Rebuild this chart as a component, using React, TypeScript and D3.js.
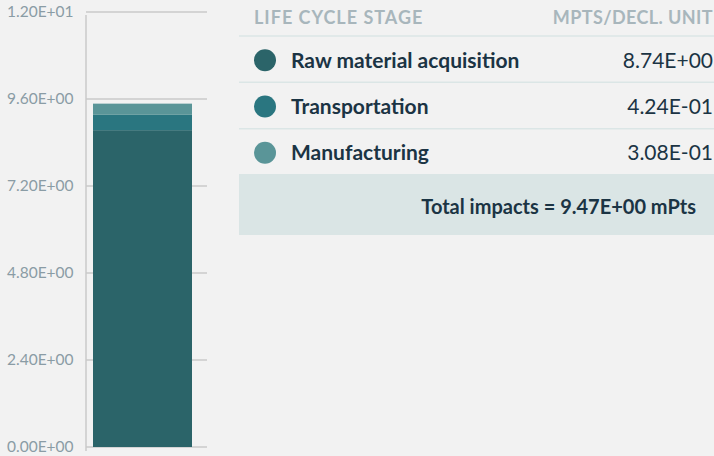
import React from "react";
import * as d3 from "d3";

const stages = ["Raw material acquisition", "Transportation", "Manufacturing"];
const values = [8.74, 0.424, 0.308];
const valueLabels = ["8.74E+00", "4.24E-01", "3.08E-01"];
const stageColors = ["#2b6469", "#2a7680", "#5a9598"];
const yTicks = [0, 2.4, 4.8, 7.2, 9.6, 12];
const totalLabel = "Total impacts = 9.47E+00 mPts";

const width = 714;
const height = 456;
const font = "Lato, 'Open Sans', sans-serif";

export default function App() {
  const y = d3.scaleLinear().domain([0, 12]).range([447, 12]);
  const fmt = (v: number) => v.toExponential(2).toUpperCase().replace(/E([+-])(\d)$/, "E$10$2");

  // stack the stages bottom-up
  const stacked = values.map((v, i) => {
    const start = d3.sum(values.slice(0, i));
    return { v, start, end: start + v, color: stageColors[i] };
  });

  const rowY = d3.scaleBand<number>().domain([0, 1, 2]).range([36, 175]);

  return (
    <svg
      width={width}
      height={height}
      style={{ position: "fixed", left: 0, top: 0, background: "#f2f2f2", fontFamily: font }}
    >
      <rect width={width} height={height} fill="#f2f2f2" />

      {/* axis */}
      <g>
        {yTicks.map((t) => (
          <g key={t}>
            <line x1={86} x2={207} y1={y(t)} y2={y(t)} stroke="#cacaca" strokeWidth={1.5} />
            <text x={7} y={y(t)} dy="0.35em" fontSize={15.5} fill="#8a9ca5">
              {fmt(t)}
            </text>
          </g>
        ))}
        <line x1={86} x2={86} y1={15} y2={451} stroke="#cacaca" strokeWidth={1.5} />
      </g>

      {/* stacked bar */}
      {stacked.map((s, i) => (
        <rect key={i} x={93} width={99} y={y(s.end)} height={y(s.start) - y(s.end)} fill={s.color} />
      ))}

      {/* table */}
      <text x={254} y={18} dy="0.35em" fontSize={18} fontWeight={700} fill="#a8b6bc" letterSpacing={1}>
        LIFE CYCLE STAGE
      </text>
      <text x={713} y={18} dy="0.35em" fontSize={18} fontWeight={700} fill="#a8b6bc" textAnchor="end" letterSpacing={0.4}>
        MPTS/DECL. UNIT
      </text>
      {[0, 1, 2].map((i) => (
        <line key={i} x1={239} x2={714} y1={rowY(i)} y2={rowY(i)} stroke="#dbe6e6" strokeWidth={1.5} />
      ))}
      {stages.map((s, i) => {
        const cy = (rowY(i) as number) + rowY.bandwidth() / 2 + 1;
        return (
          <g key={s}>
            <circle cx={265} cy={cy} r={11} fill={stageColors[i]} />
            <text x={291} y={cy} dy="0.35em" fontSize={21} fontWeight={700} fill="#1b3444">
              {s}
            </text>
            <text x={713} y={cy} dy="0.35em" fontSize={21} fill="#1b3444" textAnchor="end">
              {valueLabels[i]}
            </text>
          </g>
        );
      })}
      <rect x={239} y={174} width={475} height={61} fill="#dae5e5" />
      <text x={696} y={207} dy="0.35em" fontSize={20} fontWeight={700} fill="#1b3444" textAnchor="end">
        {totalLabel}
      </text>
    </svg>
  );
}
